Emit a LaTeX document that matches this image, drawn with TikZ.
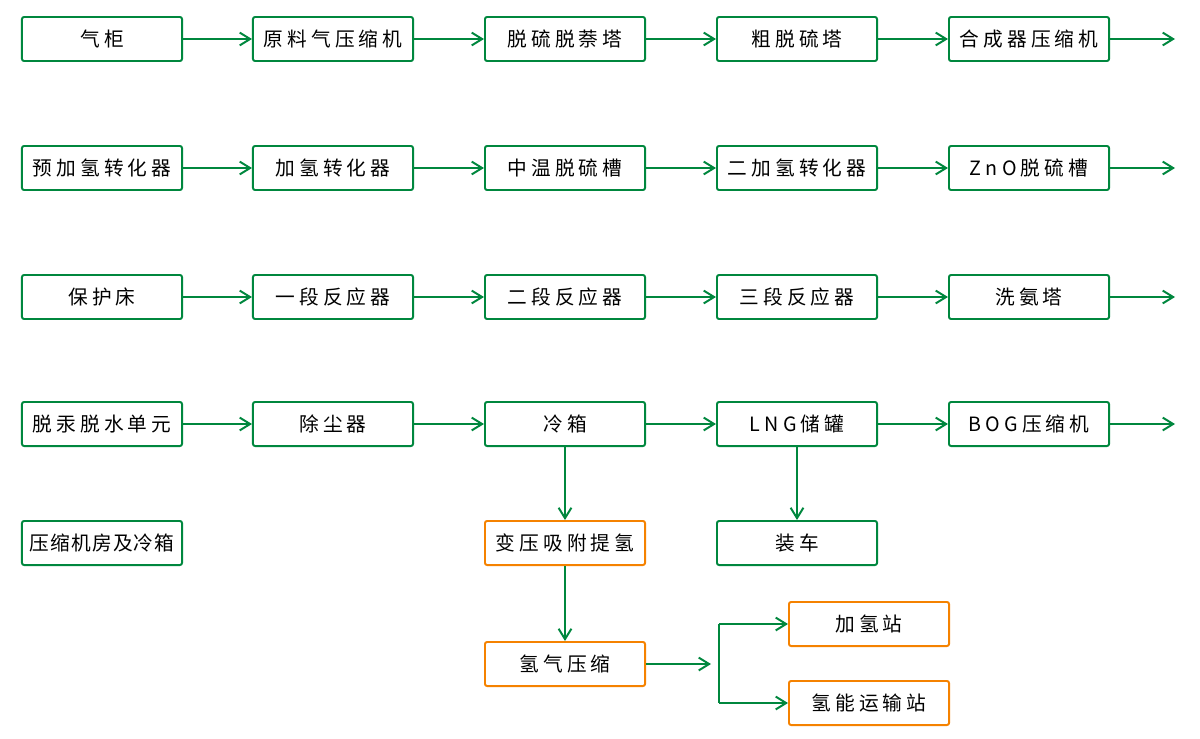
\documentclass[tikz,border=0pt]{standalone}
\usepackage{fontspec}
\setmainfont[LetterSpace=21]{Noto Sans CJK SC}
\newfontfamily\jinzi[LetterSpace=6]{Noto Sans CJK SC}
\usetikzlibrary{arrows.meta}

\definecolor{lvse}{RGB}{0,135,62}
\definecolor{chengse}{RGB}{245,130,0}

\tikzset{
  box/.style={draw=lvse, line width=1.4pt, rounded corners=1.5pt,
    minimum width=4cm, minimum height=1.1cm, inner sep=0pt,
    font=\fontsize{14}{16}\selectfont},
  obox/.style={box, draw=chengse},
  jt/.style={draw=lvse, line width=1.4pt,
    -{Straight Barb[length=2.6mm,width=3.2mm]}},
  xian/.style={draw=lvse, line width=1.4pt}
}

\begin{document}
\begin{tikzpicture}[x=0.025cm,y=-0.025cm]
\useasboundingbox (0,0) rectangle (1200,738);

% row 1
\node[box] (qigui)   at (102,39)  {气柜};
\node[box] (yuanliao) at (333,39) {原料气压缩机};
\node[box] (tuoliu)  at (565,39)  {脱硫脱萘塔};
\node[box] (cutuo)   at (797,39)  {粗脱硫塔};
\node[box] (hecheng) at (1029,39) {合成器压缩机};
\coordinate (e1) at (1175,39);

% row 2
\node[box] (yujia)   at (102,168)  {预加氢转化器};
\node[box] (jiaqing) at (333,168)  {加氢转化器};
\node[box] (zhongwen) at (565,168) {中温脱硫槽};
\node[box] (erjia)   at (797,168)  {二加氢转化器};
\node[box] (zno)     at (1029,168) {ZnO脱硫槽};
\coordinate (e2) at (1175,168);

% row 3
\node[box] (baohu)   at (102,297)  {保护床};
\node[box] (yiduan)  at (333,297)  {一段反应器};
\node[box] (erduan)  at (565,297)  {二段反应器};
\node[box] (sanduan) at (797,297)  {三段反应器};
\node[box] (xian)    at (1029,297) {洗氨塔};
\coordinate (e3) at (1175,297);

% row 4
\node[box] (tuogong) at (102,424)  {脱汞脱水单元};
\node[box] (chuchen) at (333,424)  {除尘器};
\node[box] (lengxiang) at (565,424) {冷箱};
\node[box] (lng)     at (797,424)  {LNG储罐};
\node[box] (bog)     at (1029,424) {BOG压缩机};
\coordinate (e4) at (1175,424);

% bottom
\node[box]  (jifang)  at (102,543) {\jinzi 压缩机房及冷箱};
\node[obox] (bianya)  at (565,543) {变压吸附提氢};
\node[box]  (zhuangche) at (797,543) {装车};
\node[obox] (yasuo)   at (565,664) {氢气压缩};
\node[obox] (zhan)    at (869,624) {加氢站};
\node[obox] (yunshu)  at (869,703) {氢能运输站};

\coordinate (fen) at (711,664);
\coordinate (fs) at (719,624);
\coordinate (fx) at (719,703);

\draw[jt] (qigui) -- (yuanliao);
\draw[jt] (yuanliao) -- (tuoliu);
\draw[jt] (tuoliu) -- (cutuo);
\draw[jt] (cutuo) -- (hecheng);
\draw[jt] (hecheng) -- (e1);

\draw[jt] (yujia) -- (jiaqing);
\draw[jt] (jiaqing) -- (zhongwen);
\draw[jt] (zhongwen) -- (erjia);
\draw[jt] (erjia) -- (zno);
\draw[jt] (zno) -- (e2);

\draw[jt] (baohu) -- (yiduan);
\draw[jt] (yiduan) -- (erduan);
\draw[jt] (erduan) -- (sanduan);
\draw[jt] (sanduan) -- (xian);
\draw[jt] (xian) -- (e3);

\draw[jt] (tuogong) -- (chuchen);
\draw[jt] (chuchen) -- (lengxiang);
\draw[jt] (lengxiang) -- (lng);
\draw[jt] (lng) -- (bog);
\draw[jt] (bog) -- (e4);

\draw[jt] (lengxiang) -- (bianya);
\draw[jt] (lng) -- (zhuangche);
\draw[jt] (bianya) -- (yasuo);
\draw[jt] (yasuo) -- (fen);
\draw[xian] (fs) -- (fx);
\draw[jt] (fs) -- (zhan);
\draw[jt] (fx) -- (yunshu);
\end{tikzpicture}
\end{document}
